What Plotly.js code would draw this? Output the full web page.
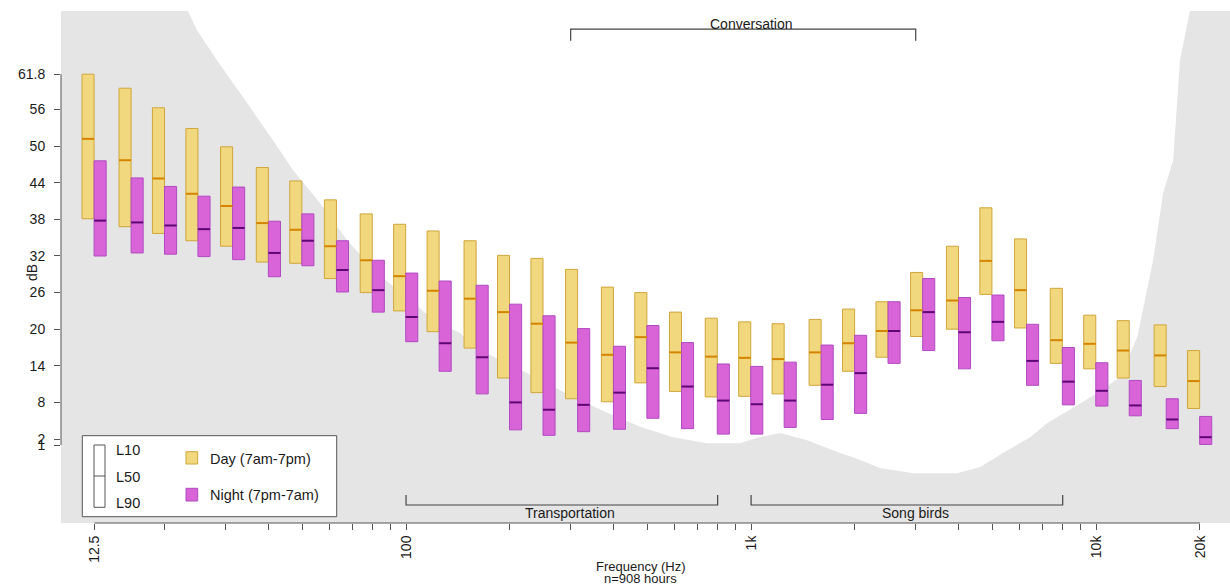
<!DOCTYPE html>
<html>
<head>
<meta charset="utf-8">
<script src="https://cdn.plot.ly/plotly-3.0.1.min.js"></script>
<style>html,body{margin:0;padding:0;background:#fff;}#chart{width:1230px;height:587px;}</style>
</head>
<body>
<div id="chart"></div>
<script>
// 1/3-octave band centre frequencies (Hz)
const freqs = [12.5,16,20,25,31.5,40,50,63,80,100,125,160,200,250,315,400,500,630,800,1000,1250,1600,2000,2500,3150,4000,5000,6300,8000,10000,12500,16000,20000];

// Day (7am-7pm) levels, dB
const dayL10 = [61.8,59.5,56.3,52.9,49.9,46.5,44.3,41.2,38.9,37.2,36.1,34.5,32.1,31.6,29.8,26.9,26.0,22.8,21.8,21.2,20.9,21.6,23.3,24.5,29.3,33.6,39.9,34.8,26.7,22.3,21.4,20.7,16.5];
const dayL50 = [51.2,47.7,44.7,42.2,40.2,37.4,36.3,33.6,31.3,28.7,26.3,25.0,22.8,20.9,17.8,15.8,18.7,16.2,15.5,15.3,15.1,16.2,17.7,19.7,23.1,24.7,31.2,26.4,18.2,17.6,16.5,15.7,11.5];
const dayL90 = [38.1,36.8,35.7,34.5,33.6,31.0,30.8,28.3,26.0,23.0,19.6,16.9,12.0,9.6,8.6,8.1,11.2,9.8,8.9,9.0,9.4,10.8,13.1,15.4,18.8,20.0,25.7,20.2,14.4,13.5,12.0,10.6,7.0];

// Night (7pm-7am) levels, dB
const nightL10 = [47.6,44.8,43.4,41.8,43.3,37.7,38.9,34.5,31.3,29.2,27.9,27.2,24.1,22.2,20.1,17.2,20.6,17.8,14.3,13.9,14.6,17.4,19.0,24.5,28.3,25.2,25.6,20.8,17.0,14.5,11.6,8.6,5.7];
const nightL50 = [37.8,37.5,37.0,36.4,36.6,32.5,34.5,29.7,26.4,22.0,17.7,15.4,8.0,6.8,7.6,9.6,13.6,10.6,8.3,7.7,8.3,10.9,12.8,19.7,22.8,19.5,21.2,14.8,11.4,9.9,7.5,5.2,2.3];
const nightL90 = [32.0,32.5,32.3,31.9,31.4,28.6,30.4,26.1,22.8,17.95,13.1,9.4,3.5,2.6,3.2,3.6,5.4,3.7,2.8,2.8,3.9,5.2,6.2,14.4,16.5,13.5,18.1,10.8,7.6,7.4,5.8,3.7,1.1];

// Hearing threshold curve (white area above it)
const thrFreq = [20,23.3,24.8,28.3,34.6,41.1,47.0,56.3,67.5,82.4,102.7,123,143.5,156,196,244,305,383,477,594,745,929,1041,1214,1453,1811,1976,2365,2951,3953,4613,5373,6440,7210,10070,11750,13160,14630,15630,16720,17500,18720,19500];
const thrDb   = [80,72.2,69.0,64.1,57.1,51.0,46.1,40.7,34.6,29.2,24.8,21.0,19.4,17.1,14.5,11.7,8.9,6.3,4.0,2.3,1.3,1.3,2.2,3.0,1.8,-0.3,-1.0,-2.75,-3.6,-3.6,-2.6,-0.3,2.3,4.6,9.5,12.2,18.7,31.3,42.3,47.7,64.1,72.3,80];

// Axis ticks
const yTickVals = [1,2,8,14,20,26,32,38,44,50,56,61.8];
const yTickText = ['1','2','8','14','20','26','32','38','44','50','56','61.8'];
const xTickFreqs = [12.5,20,30,40,50,60,70,80,90,100,200,300,400,500,600,700,800,900,1000,2000,3000,4000,5000,6000,7000,8000,9000,10000,20000];
const xTickText  = ['12.5','','','','','','','','','100','','','','','','','','','1k','','','','','','','','','10k','20k'];

// Annotated frequency regions
const regionNames = ['Conversation','Transportation','Song birds'];
const regionLo = [300,100,1000];
const regionHi = [3000,800,8000];

const FONT = 'Liberation Sans, Arial, sans-serif';
const lg = v => Math.log10(v);
const X = freqs.map(lg);
const W = 0.035;
const dayOff = -0.036, nightOff = -0.001;

const DAY_FILL = '#f1d77d', DAY_LINE = '#cfa63c', DAY_MED = '#d48400';
const NIGHT_FILL = '#d964d8', NIGHT_LINE = '#b04ac0', NIGHT_MED = '#5e0676';

function medSeg(vals, off) {
  const xs = [], ys = [];
  X.forEach((x, i) => { xs.push(x + off, x + off + W, null); ys.push(vals[i], vals[i], null); });
  return {xs, ys};
}
const dm = medSeg(dayL50, dayOff), nm = medSeg(nightL50, nightOff);

const traces = [
  {type:'bar', x: X, base: dayL90, y: dayL10.map((v,i)=>v-dayL90[i]), width: W, offset: dayOff,
   marker:{color: DAY_FILL, line:{color: DAY_LINE, width:1}}, name:'Day (7am-7pm)'},
  {type:'bar', x: X, base: nightL90, y: nightL10.map((v,i)=>v-nightL90[i]), width: W, offset: nightOff,
   marker:{color: NIGHT_FILL, line:{color: NIGHT_LINE, width:1}}, name:'Night (7pm-7am)'},
  {type:'scatter', mode:'lines', x: dm.xs, y: dm.ys, line:{color: DAY_MED, width:2}, hoverinfo:'skip'},
  {type:'scatter', mode:'lines', x: nm.xs, y: nm.ys, line:{color: NIGHT_MED, width:2}, hoverinfo:'skip'}
];

const AX = '#555';
// white audible region above the threshold curve, drawn beneath the bars
const thrPath = 'M' + thrFreq.map((f, i) => `${lg(f)},${thrDb[i]}`).join(' L') + ' Z';
const shapes = [
  {type:'path', xref:'x', yref:'y', layer:'below', path: thrPath, fillcolor:'#ffffff', line:{width:0}},
  // axis lines (R style, spanning first..last tick)
  {type:'line', xref:'paper', yref:'y', x0:0, x1:0, y0:yTickVals[0], y1:yTickVals[yTickVals.length-1], line:{color:AX, width:1}},
  {type:'line', xref:'x', yref:'paper', x0:lg(xTickFreqs[0]), x1:lg(xTickFreqs[xTickFreqs.length-1]), y0:0, y1:0, line:{color:AX, width:1}}
];
const annotations = [];
const tf = {family: FONT, size: 14, color:'#1a1a1a'};

// Region brackets
regionNames.forEach((name, i) => {
  const x0 = lg(regionLo[i]), x1 = lg(regionHi[i]);
  const top = i === 0;
  const yl = top ? 69.2 : -8.82, ye = top ? 67.3 : -7.18;
  shapes.push({type:'path', xref:'x', yref:'y',
    path:`M${x0},${ye} L${x0},${yl} L${x1},${yl} L${x1},${ye}`, line:{color:'#444', width:1.2}});
  annotations.push({xref:'x', yref:'y', x:(x0+x1)/2 + 0.025, y: top ? 70.0 : -10.1, text:name, showarrow:false,
    font:tf, xanchor:'center', yanchor:'middle'});
});

// Custom legend
const px = p => (p - 61) / 1169;
const py = p => (523 - p) / 512;
shapes.push(
  {type:'rect', xref:'paper', yref:'paper', x0:px(82.3), x1:px(336.7), y0:py(516.7), y1:py(435.7), fillcolor:'#ffffff', line:{color:'#555', width:1}},
  {type:'rect', xref:'paper', yref:'paper', x0:px(94), x1:px(105), y0:py(507.3), y1:py(445), fillcolor:'#ffffff', line:{color:'#555', width:1}},
  {type:'line', xref:'paper', yref:'paper', x0:px(94), x1:px(105), y0:py(476), y1:py(476), line:{color:'#555', width:1}},
  {type:'rect', xref:'paper', yref:'paper', x0:px(186), x1:px(197.7), y0:py(464), y1:py(451.7), fillcolor:DAY_FILL, line:{color:DAY_LINE, width:1}},
  {type:'rect', xref:'paper', yref:'paper', x0:px(186), x1:px(197.7), y0:py(501), y1:py(488.3), fillcolor:NIGHT_FILL, line:{color:NIGHT_LINE, width:1}}
);
const lf = {family: FONT, size: 14.5, color:'#1a1a1a'};
[['L10',450],['L50',477],['L90',503]].forEach(([t,y]) => annotations.push({xref:'paper', yref:'paper', x:px(114), y:py(y), text:t, showarrow:false, xanchor:'left', yanchor:'middle', font:lf}));
annotations.push({xref:'paper', yref:'paper', x:px(208), y:py(459), text:'Day (7am-7pm)', showarrow:false, xanchor:'left', yanchor:'middle', font:lf});
annotations.push({xref:'paper', yref:'paper', x:px(208), y:py(495), text:'Night (7pm-7am)', showarrow:false, xanchor:'left', yanchor:'middle', font:lf});

// Axis titles
annotations.push({xref:'paper', yref:'paper', x:px(32), y:py(273), text:'dB', textangle:-90, showarrow:false, xanchor:'center', yanchor:'middle', font:{family:FONT, size:14, color:'#1a1a1a'}});
annotations.push({xref:'paper', yref:'paper', x:px(641), y:py(566), text:'Frequency (Hz)', showarrow:false, xanchor:'center', yanchor:'middle', font:{family:FONT, size:13, color:'#1a1a1a'}});
annotations.push({xref:'paper', yref:'paper', x:px(640), y:py(578.5), text:'n=908 hours', showarrow:false, xanchor:'center', yanchor:'middle', font:{family:FONT, size:13, color:'#1a1a1a'}});

const layout = {
  width:1230, height:587,
  margin:{l:61, r:0, t:11, b:64, pad:0},
  paper_bgcolor:'#ffffff', plot_bgcolor:'#e5e5e5',
  showlegend:false, barmode:'overlay',
  font:{family:FONT, color:'#1a1a1a'},
  xaxis:{range:[1.0, 4.388], tickmode:'array', tickvals: xTickFreqs.map(lg), ticktext: xTickText,
    tickangle:-90, ticks:'outside', ticklen:6, tickcolor:AX, tickwidth:1,
    tickfont:{family:FONT, size:14, color:'#1a1a1a'},
    showgrid:false, zeroline:false, showline:false, fixedrange:true},
  yaxis:{range:[-11.77, 72.16], tickmode:'array', tickvals: yTickVals, ticktext: yTickText,
    ticks:'outside', ticklen:6, tickcolor:AX, tickwidth:1, ticklabelstandoff:6,
    tickfont:{family:FONT, size:14, color:'#1a1a1a'},
    showgrid:false, zeroline:false, showline:false, fixedrange:true},
  shapes, annotations
};

Plotly.newPlot('chart', traces, layout, {displayModeBar:false, staticPlot:true});
</script>
</body>
</html>
